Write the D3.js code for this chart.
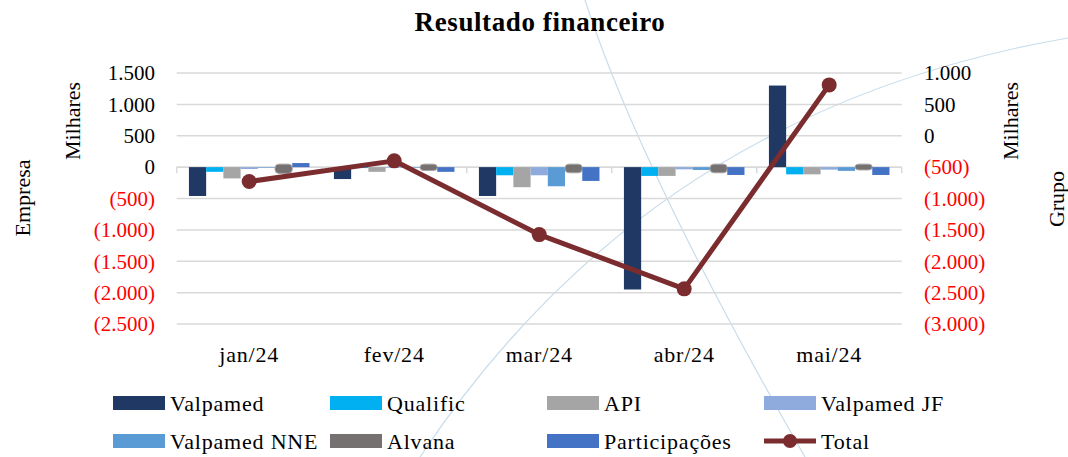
<!DOCTYPE html>
<html>
<head>
<meta charset="utf-8">
<script src="https://cdn.jsdelivr.net/npm/d3@7"></script>
<style>
  html, body { margin: 0; padding: 0; background: #fff; }
  svg { display: block; }
  svg text { font-family: "Liberation Serif", "DejaVu Serif", serif; }
</style>
</head>
<body>
<svg id="chart" width="1068" height="457"></svg>
<script>
// data (thousands)
const months = ['jan/24', 'fev/24', 'mar/24', 'abr/24', 'mai/24'];
const seriesNames = ['Valpamed', 'Qualific', 'API', 'Valpamed JF', 'Valpamed NNE', 'Alvana', 'Participações'];
const seriesColors = ['#1F3864', '#00B0F0', '#A5A5A5', '#8FAADC', '#5B9BD5', '#767171', '#4472C4'];
const valpamed    = [-460, -190, -460, -1950, 1300];
const qualific    = [-75, -15, -130, -140, -115];
const api         = [-180, -75, -320, -140, -115];
const valpamedJF  = [-30, -10, -130, -35, -40];
const valpamedNNE = [-10, -10, -305, -45, -60];
const alvana      = [-100, -55, -90, -90, -45];
const participacoes = [65, -75, -220, -125, -125];
const total       = [-730, -400, -1575, -2440, 810];
const leftTicks  = [1500, 1000, 500, 0, -500, -1000, -1500, -2000, -2500];
const rightTicks = [1000, 500, 0, -500, -1000, -1500, -2000, -2500, -3000];

const seriesValues = [valpamed, qualific, api, valpamedJF, valpamedNNE, alvana, participacoes];

const svg = d3.select('#chart').attr('font-family', '"Liberation Serif", "DejaVu Serif", serif');
const plot = { left: 176.7, right: 901.7, top: 73, bottom: 324 };

const fmt = v => {
  const s = d3.format(',')(Math.abs(v)).replace(/,/g, '.');
  return v < 0 ? `(${s})` : s;
};

// decorative background curves
svg.append('path')
  .attr('d', 'M585,0 Q640,170 805,457')
  .attr('fill', 'none').attr('stroke', '#C9DDEA').attr('stroke-width', 1.2);
svg.append('path')
  .attr('d', 'M420,457 Q650,110 1068,38')
  .attr('fill', 'none').attr('stroke', '#C9DDEA').attr('stroke-width', 1.2);

const x0 = d3.scaleBand().domain(months).range([plot.left, plot.right]).padding(0);
const x1 = d3.scaleBand().domain(seriesNames).range([0, x0.bandwidth()])
  .paddingInner(0).paddingOuter(0.71);
const yL = d3.scaleLinear().domain([-2500, 1500]).range([plot.bottom, plot.top]);
const yR = d3.scaleLinear().domain([-3000, 1000]).range([plot.bottom, plot.top]);

// gridlines
svg.append('g').selectAll('line').data(leftTicks).join('line')
  .attr('x1', plot.left).attr('x2', plot.right)
  .attr('y1', d => yL(d)).attr('y2', d => yL(d))
  .attr('stroke', '#D9D9D9').attr('stroke-width', 1.5);

// left tick labels
svg.append('g').selectAll('text').data(leftTicks).join('text')
  .attr('x', 155).attr('y', d => yL(d)).attr('dy', '0.35em')
  .attr('text-anchor', 'end').attr('font-size', 21)
  .attr('fill', d => d < 0 ? '#FF0000' : '#000')
  .text(fmt);

// right tick labels
svg.append('g').selectAll('text').data(rightTicks).join('text')
  .attr('x', 924).attr('y', d => yR(d)).attr('dy', '0.35em')
  .attr('text-anchor', 'start').attr('font-size', 21)
  .attr('fill', d => d < 0 ? '#FF0000' : '#000')
  .text(fmt);

// category axis at zero
const zeroY = yL(0);
svg.append('line')
  .attr('x1', plot.left).attr('x2', plot.right)
  .attr('y1', zeroY).attr('y2', zeroY)
  .attr('stroke', '#D9D9D9').attr('stroke-width', 1.5);
svg.append('g').selectAll('line').data(d3.range(months.length + 1)).join('line')
  .attr('x1', i => plot.left + i * x0.step()).attr('x2', i => plot.left + i * x0.step())
  .attr('y1', zeroY).attr('y2', zeroY + 6)
  .attr('stroke', '#D9D9D9').attr('stroke-width', 1.5);

svg.append('g').selectAll('text').data(months).join('text')
  .attr('x', d => x0(d) + x0.bandwidth() / 2).attr('y', 362)
  .attr('text-anchor', 'middle').attr('font-size', 22).attr('letter-spacing', 0.8)
  .text(d => d);

// bars
const barData = [];
months.forEach((m, i) => {
  seriesNames.forEach((s, j) => barData.push({ month: m, series: s, value: seriesValues[j][i], color: seriesColors[j] }));
});
svg.append('g').selectAll('rect').data(barData).join('rect')
  .attr('x', d => x0(d.month) + x1(d.series))
  .attr('width', x1.bandwidth())
  .attr('y', d => d.series === 'Alvana' ? Math.min(yL(d.value), zeroY) - 3 : Math.min(yL(d.value), zeroY))
  .attr('height', d => Math.abs(yL(d.value) - zeroY) + (d.series === 'Alvana' ? 3 : 0))
  .attr('rx', d => d.series === 'Alvana' ? 4 : 0)
  .attr('fill', d => d.color)
  .attr('stroke', d => d.series === 'Alvana' ? '#A6A3A3' : 'none')
  .attr('stroke-width', 1);

// total line
const line = d3.line().x((d, i) => x0(months[i]) + x0.bandwidth() / 2).y(d => yR(d));
svg.append('path').datum(total)
  .attr('d', line).attr('fill', 'none')
  .attr('stroke', '#7B2C2F').attr('stroke-width', 5).attr('stroke-linejoin', 'round');
svg.append('g').selectAll('circle').data(total).join('circle')
  .attr('cx', (d, i) => x0(months[i]) + x0.bandwidth() / 2)
  .attr('cy', d => yR(d)).attr('r', 7.5)
  .attr('fill', '#7B2C2F');

// title
svg.append('text').attr('x', 540).attr('y', 31)
  .attr('text-anchor', 'middle').attr('font-size', 27).attr('font-weight', 'bold')
  .attr('letter-spacing', 0.6)
  .text('Resultado financeiro');

// axis titles
const vTitle = (x, y, t) => svg.append('text')
  .attr('transform', `translate(${x},${y}) rotate(-90)`)
  .attr('text-anchor', 'middle').attr('dy', '0.35em').attr('font-size', 22).text(t);
vTitle(22, 198, 'Empresa');
vTitle(72, 121, 'Milhares');
vTitle(1010, 121, 'Milhares');
vTitle(1056, 199, 'Grupo');

// legend
const legendItems = seriesNames.map((s, i) => ({ name: s, color: seriesColors[i], type: 'bar' }))
  .concat([{ name: 'Total', color: '#7B2C2F', type: 'line' }]);
const legendCols = [113, 330, 547, 764];
const legendRows = [403, 441];
const lg = svg.append('g').selectAll('g').data(legendItems).join('g')
  .attr('transform', (d, i) => `translate(${legendCols[i % 4]},${legendRows[Math.floor(i / 4)]})`);
lg.filter(d => d.type === 'bar').append('rect')
  .attr('x', 0).attr('y', -7).attr('width', 52).attr('height', 14)
  .attr('fill', d => d.color);
lg.filter(d => d.type === 'line').append('line')
  .attr('x1', 0).attr('x2', 52).attr('y1', 0).attr('y2', 0)
  .attr('stroke', d => d.color).attr('stroke-width', 5);
lg.filter(d => d.type === 'line').append('circle')
  .attr('cx', 26).attr('cy', 0).attr('r', 7).attr('fill', d => d.color);
lg.append('text').attr('x', 57).attr('y', 0).attr('dy', '0.35em')
  .attr('font-size', 22).attr('letter-spacing', 0.8).text(d => d.name);
</script>
</body>
</html>
